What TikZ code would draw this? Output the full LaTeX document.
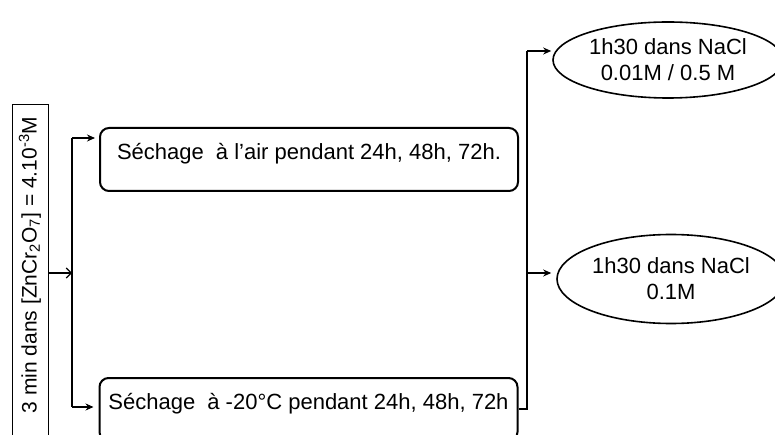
\documentclass[tikz,border=0pt]{standalone}
\usepackage{fontspec}
\setmainfont{Liberation Sans}
\usetikzlibrary{shapes.geometric,arrows.meta}
\begin{document}
\begin{tikzpicture}[x=1pt,y=-1pt,
  txt/.style={font=\fontsize{21}{26}\selectfont},
  bigtxt/.style={font=\fontsize{22}{26}\selectfont},
  srcbox/.style={draw,line width=1pt,minimum width=36pt,minimum height=336pt,inner sep=0pt},
  dry/.style={draw,line width=2pt,rounded corners=9pt,minimum width=418pt,minimum height=63pt,inner sep=0pt,text height=10pt,text depth=10pt,bigtxt},
  bath/.style={ellipse,draw,line width=1.6pt,inner sep=0pt,align=center,bigtxt},
  conn/.style={line width=1.1pt},
  tip/.style={-{Stealth[length=8pt,width=7pt]}}
]
\clip (0,0) rectangle (775,435);
\node[srcbox] (src) at (30,273) {};
\node[txt,rotate=90] (srclab) at (30,265) {3 min dans [ZnCr\textsubscript{2}O\textsubscript{7}] = 4.10\textsuperscript{-3}M};
\node[dry] (air) at (309,159.5) {Séchage\hspace{0.55em}à l’air pendant 24h, 48h, 72h.};
\node[dry] (cold) at (308.5,409.5) {Séchage\hspace{0.55em}à -20°C pendant 24h, 48h, 72h};
\node[bath,minimum width=230pt,minimum height=76pt] (nacl1) at (668,60) {1h30 dans NaCl\\0.01M / 0.5 M};
\node[bath,minimum width=228pt,minimum height=89pt] (nacl2) at (671,279) {1h30 dans NaCl\\0.1M};
\coordinate (jl) at (72,273);
\coordinate (jlt) at (72,138);
\coordinate (jlb) at (72,407);
\coordinate (jr) at (527,273);
\coordinate (jrt) at (527,51);
\coordinate (jrb) at (527,409);
\draw[conn,-{Straight Barb[length=5pt,width=10pt]}] (src.east) -- (jl);
\draw[conn] (jlt) -- (jlb);
\draw[conn,tip,shorten >=4pt] (jlt) -- (air.west |- jlt);
\draw[conn,tip,shorten >=5pt] (jlb) -- (cold.west |- jlb);
\draw[conn] (cold.east |- jrb) -- (jrb) -- (jrt);
\draw[conn,tip,shorten >=1pt] (jrt) -- (nacl1.west |- jrt);
\draw[conn,tip,shorten >=5pt] (jr) -- (nacl2.west |- jr);
\end{tikzpicture}
\end{document}
